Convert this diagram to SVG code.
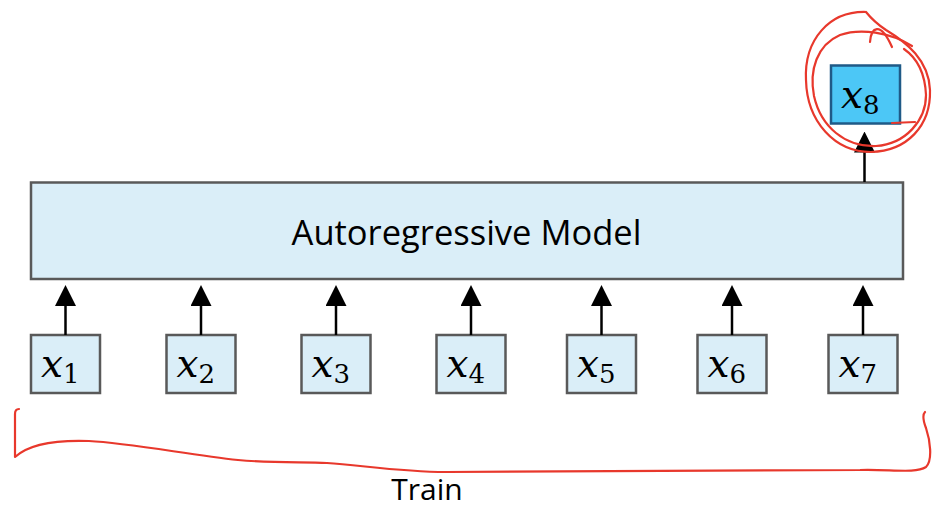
<svg xmlns="http://www.w3.org/2000/svg" width="932" height="510" viewBox="0 0 932 510">
  <style>
    .tok { fill: #DAEEF8; stroke: #595959; stroke-width: 2.5; }
    .model { fill: #DAEEF8; stroke: #595959; stroke-width: 2.5; }
    .out { fill: #4CC7F6; stroke: #1F5A87; stroke-width: 2.5; }
    .var { font-family: "DejaVu Serif", serif; font-size: 39px; font-style: italic; fill: #000; }
    .sub { font-family: "DejaVu Serif", serif; font-size: 26px; font-style: normal; }
    .label { font-family: "Open Sans", "Liberation Sans", sans-serif; fill: #000; }
    .arrow { stroke: #000; stroke-width: 2.5; fill: none; marker-end: url(#head); }
    .ink { fill: none; stroke: #E8382C; stroke-width: 2.2; stroke-linecap: round; stroke-linejoin: round; }
  </style>
  <defs>
    <marker id="head" viewBox="0 0 21 21" markerWidth="21" markerHeight="21" refX="10" refY="10.5" orient="auto" markerUnits="userSpaceOnUse">
      <path d="M0,0 L21,10.5 L0,21 z" fill="#000"/>
    </marker>
  </defs>

  <rect width="932" height="510" fill="#fff"/>

  <!-- model block -->
  <g id="model">
    <rect class="model" x="31" y="182.5" width="872" height="96.5"/>
    <text class="label" x="466.5" y="245" font-size="34.5" text-anchor="middle">Autoregressive Model</text>
  </g>

  <!-- input tokens -->
  <g id="x1"><rect class="tok" x="31" y="335" width="69" height="58"/><text class="var" x="41" y="377">x<tspan class="sub" dy="6">1</tspan></text></g>
  <g id="x2"><rect class="tok" x="166.5" y="335" width="69" height="58"/><text class="var" x="176.5" y="377">x<tspan class="sub" dy="6">2</tspan></text></g>
  <g id="x3"><rect class="tok" x="301.5" y="335" width="69" height="58"/><text class="var" x="311.5" y="377">x<tspan class="sub" dy="6">3</tspan></text></g>
  <g id="x4"><rect class="tok" x="436.5" y="335" width="69" height="58"/><text class="var" x="446.5" y="377">x<tspan class="sub" dy="6">4</tspan></text></g>
  <g id="x5"><rect class="tok" x="567" y="335" width="69" height="58"/><text class="var" x="577" y="377">x<tspan class="sub" dy="6">5</tspan></text></g>
  <g id="x6"><rect class="tok" x="697.5" y="335" width="69" height="58"/><text class="var" x="707.5" y="377">x<tspan class="sub" dy="6">6</tspan></text></g>
  <g id="x7"><rect class="tok" x="828.5" y="335" width="69" height="58"/><text class="var" x="838.5" y="377">x<tspan class="sub" dy="6">7</tspan></text></g>

  <!-- predicted token -->
  <g id="x8"><rect class="out" x="831" y="65.5" width="69" height="58"/><text class="var" x="841" y="108">x<tspan class="sub" dy="6">8</tspan></text></g>

  <!-- connectors -->
  <g id="connectors">
    <line class="arrow" x1="65.5" y1="335" x2="65.5" y2="296"/>
    <line class="arrow" x1="201" y1="335" x2="201" y2="296"/>
    <line class="arrow" x1="336" y1="335" x2="336" y2="296"/>
    <line class="arrow" x1="471" y1="335" x2="471" y2="296"/>
    <line class="arrow" x1="601.5" y1="335" x2="601.5" y2="296"/>
    <line class="arrow" x1="732" y1="335" x2="732" y2="296"/>
    <line class="arrow" x1="863" y1="335" x2="863" y2="296"/>
    <line class="arrow" x1="864.5" y1="182" x2="864.5" y2="142.5"/>
  </g>

  <!-- hand-drawn annotations -->
  <g id="annotations">
    <path class="ink" d="M866,12 C829,11 804,40 806,80 C807,122 835,152 871,152 C907,151 931,126 930,90 C929,60 906,42 886,30 C877,24 870,17 866,12"/>
    <path class="ink" d="M912,46 C890,32 860,28 840,35 C817,45 809,70 814,96 C821,127 845,147 876,146 C906,144 926,120 926,95 C925,72 917,58 904,49"/>
    <path class="ink" d="M870,42 C871,28 880,20 892,47"/>
    <path class="ink" d="M892,123 L915,122"/>
    <path class="ink" d="M19,409 C16,409 15,411 15,414 L15,457 C30,443 60,440 89,441 C130,443 190,455 238,460 C270,463 300,462 327,463 C360,465 400,472 446,472 L860,470 C890,469 915,474 926,467 C933,460 930,440 926,428 C923,420 922,415 925,412"/>
    <text class="label" x="427" y="500" font-size="30" text-anchor="middle">Train</text>
  </g>
</svg>
